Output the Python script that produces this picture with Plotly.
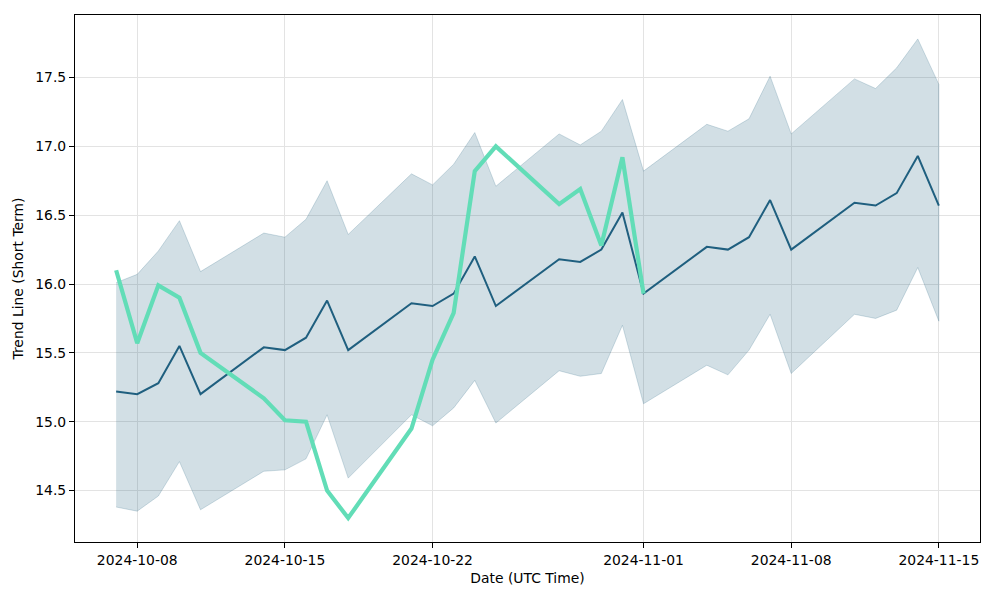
import plotly.graph_objects as go

dates = ["2024-10-07", "2024-10-08", "2024-10-09", "2024-10-10", "2024-10-11",
         "2024-10-14", "2024-10-15", "2024-10-16", "2024-10-17", "2024-10-18",
         "2024-10-21", "2024-10-22", "2024-10-23", "2024-10-24", "2024-10-25",
         "2024-10-28", "2024-10-29", "2024-10-30", "2024-10-31", "2024-11-01",
         "2024-11-04", "2024-11-05", "2024-11-06", "2024-11-07", "2024-11-08",
         "2024-11-11", "2024-11-12", "2024-11-13", "2024-11-14", "2024-11-15"]

trend = [15.22, 15.20, 15.28, 15.55, 15.20,
         15.54, 15.52, 15.61, 15.88, 15.52,
         15.86, 15.84, 15.93, 16.20, 15.84,
         16.18, 16.16, 16.25, 16.52, 15.93,
         16.27, 16.25, 16.34, 16.61, 16.25,
         16.59, 16.57, 16.66, 16.93, 16.57]

upper = [16.01, 16.07, 16.24, 16.46, 16.09,
         16.37, 16.34, 16.47, 16.75, 16.36,
         16.80, 16.72, 16.87, 17.10, 16.71,
         17.09, 17.01, 17.11, 17.34, 16.82,
         17.16, 17.11, 17.20, 17.51, 17.09,
         17.49, 17.42, 17.57, 17.78, 17.45]

lower = [14.38, 14.35, 14.46, 14.71, 14.36,
         14.64, 14.65, 14.73, 15.05, 14.59,
         15.05, 14.97, 15.10, 15.30, 14.99,
         15.37, 15.33, 15.35, 15.70, 15.13,
         15.41, 15.34, 15.52, 15.78, 15.35,
         15.78, 15.75, 15.81, 16.12, 15.73]

price_dates = dates[:20]
price = [16.10, 15.57, 15.99, 15.90, 15.50,
         15.17, 15.01, 15.00, 14.50, 14.30,
         14.95, 15.45, 15.79, 16.82, 17.00,
         16.58, 16.69, 16.28, 16.92, 15.93]

tick_vals = ["2024-10-08", "2024-10-15", "2024-10-22", "2024-11-01", "2024-11-08", "2024-11-15"]
tick_text = tick_vals
y_ticks = [14.5, 15.0, 15.5, 16.0, 16.5, 17.0, 17.5]

dark = "#1f5f7f"
band = "rgba(31,95,127,0.2)"
green = "#62ddb7"

fig = go.Figure()
fig.add_trace(go.Scatter(
    x=dates + dates[::-1], y=upper + lower[::-1],
    fill="toself", fillcolor=band, mode="lines",
    line=dict(color=band, width=1), hoverinfo="skip", showlegend=False))
fig.add_trace(go.Scatter(
    x=dates, y=trend, mode="lines",
    line=dict(color=dark, width=2), showlegend=False))
fig.add_trace(go.Scatter(
    x=price_dates, y=price, mode="lines",
    line=dict(color=green, width=4.2), showlegend=False))

axis_common = dict(
    showline=True, linecolor="black", linewidth=1, mirror=True,
    ticks="outside", ticklen=5, tickwidth=1, tickcolor="black",
    showgrid=True, gridcolor="#e3e3e3", gridwidth=1, zeroline=False,
    tickfont=dict(family="DejaVu Sans", size=13.9, color="black"),
)

fig.update_layout(
    width=1000, height=600,
    margin=dict(l=75, r=20, t=15, b=58),
    paper_bgcolor="white", plot_bgcolor="white",
    font=dict(family="DejaVu Sans", size=13.9, color="black"),
    xaxis=dict(
        **axis_common,
        range=["2024-10-05 01:12", "2024-11-16 22:48"],
        tickvals=tick_vals, ticktext=tick_text,
        title=dict(text="Date (UTC Time)", font=dict(size=13.9), standoff=6),
    ),
    yaxis=dict(
        **axis_common,
        range=[14.126, 17.954],
        tickvals=y_ticks, ticktext=[f"{v:.1f}" for v in y_ticks],
        title=dict(text="Trend Line (Short Term)", font=dict(size=13.9), standoff=8),
    ),
)

fig.write_html("out.html")
